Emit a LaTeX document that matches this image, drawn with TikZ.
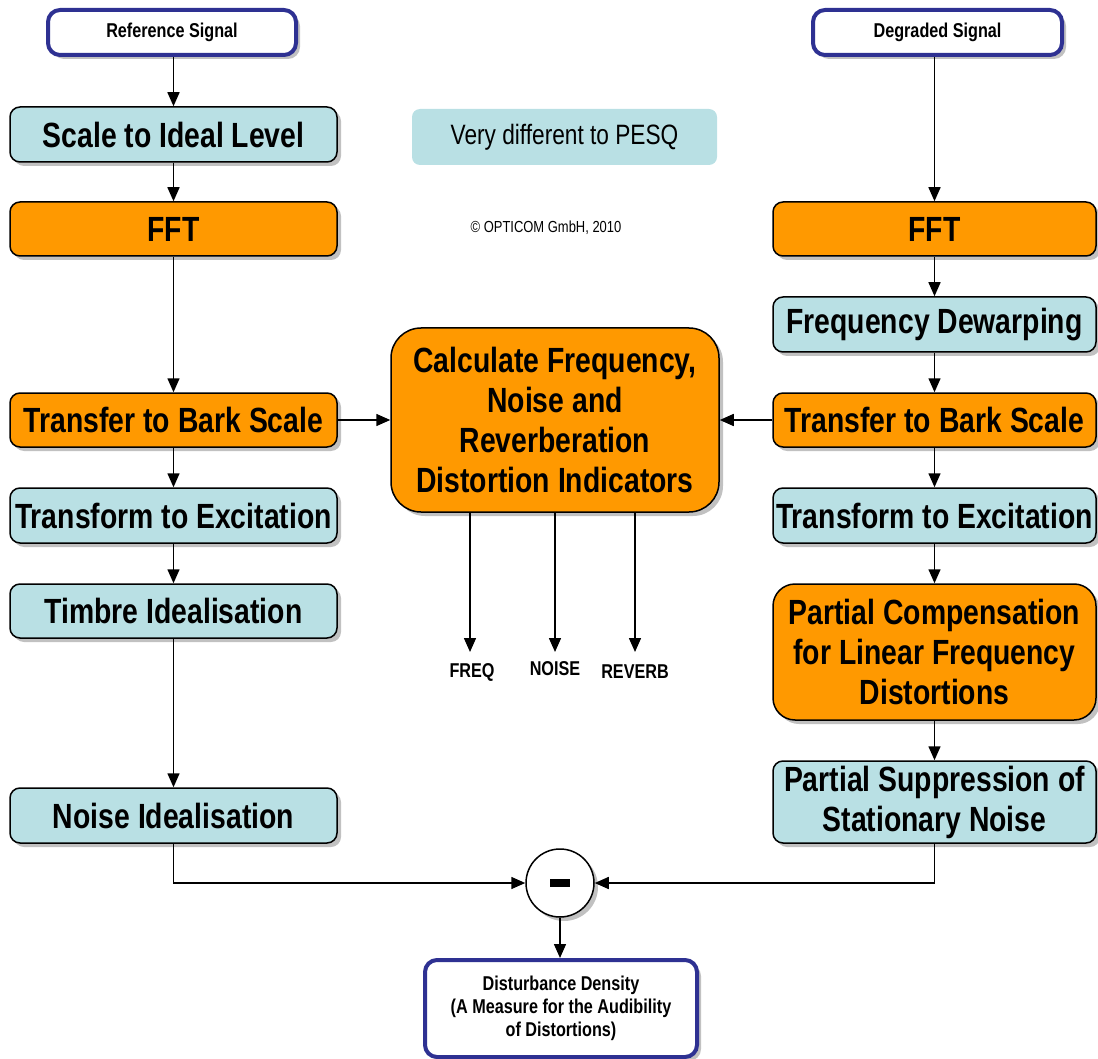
\documentclass[tikz,border=0pt]{standalone}
\usepackage{fontspec}
\setmainfont{Liberation Sans}[FakeStretch=0.81]
\usetikzlibrary{arrows.meta,shadows}
\definecolor{orng}{HTML}{FF9900}
\definecolor{lblue}{HTML}{B9E0E4}
\definecolor{navy}{HTML}{2E3192}
\begin{document}
\begin{tikzpicture}[x=1pt,y=-1pt,
  shd/.style={drop shadow={shadow xshift=4pt,shadow yshift=-4pt,opacity=0.35,fill=black!70}},
  base/.style={shd,draw=black,line width=1.5pt,rounded corners=10pt,align=center,inner sep=0pt,
    font=\fontsize{35}{40}\selectfont\bfseries},
  obox/.style={base,fill=orng},
  bbox/.style={base,fill=lblue},
  sigbox/.style={shd,draw=navy,fill=white,line width=4pt,rounded corners=12pt,align=center,inner sep=0pt,
    font=\fontsize{20}{23}\selectfont\bfseries},
  arr/.style={line width=1.5pt,-{Triangle[length=14pt,width=12pt]}},
  lbl/.style={font=\fontsize{20}{22}\selectfont\bfseries,inner sep=0pt}
]
\useasboundingbox (0,0) rectangle (1098,1059);
% left column
\node[sigbox,minimum width=248pt,minimum height=45pt] (ref) at (172,32.5) {Reference Signal};
\node[bbox,minimum width=327pt,minimum height=55pt] (scale) at (173.5,134.5) {Scale to Ideal Level};
\node[obox,minimum width=327pt,minimum height=54pt] (fftL) at (173.5,229) {FFT};
\node[obox,minimum width=327pt,minimum height=54pt] (barkL) at (173.5,420) {Transfer to Bark Scale};
\node[bbox,minimum width=327pt,minimum height=55pt] (excL) at (173.5,515.5) {Transform to Excitation};
\node[bbox,minimum width=327pt,minimum height=54pt] (timbre) at (173.5,611) {Timbre Idealisation};
\node[bbox,minimum width=327pt,minimum height=55pt] (noiseid) at (173.5,815.5) {Noise Idealisation};
% right column
\node[sigbox,minimum width=249pt,minimum height=45pt] (deg) at (937.5,32.5) {Degraded Signal};
\node[obox,minimum width=323pt,minimum height=54pt] (fftR) at (934.5,229) {FFT};
\node[bbox,minimum width=323pt,minimum height=55pt] (dewarp) at (934.5,324.5) {Frequency Dewarping};
\node[obox,minimum width=323pt,minimum height=54pt] (barkR) at (934.5,420) {Transfer to Bark Scale};
\node[bbox,minimum width=323pt,minimum height=55pt] (excR) at (934.5,515.5) {Transform to Excitation};
\node[obox,rounded corners=22pt,minimum width=323pt,minimum height=136pt] (comp) at (934.5,652) {Partial Compensation\\for Linear Frequency\\Distortions};
\node[bbox,minimum width=323pt,minimum height=82pt] (supp) at (934.5,802) {Partial Suppression of\\Stationary Noise};
% center
\node[fill=lblue,rounded corners=8pt,minimum width=305pt,minimum height=56pt,inner sep=0pt,
  font=\fontsize{28}{30}\selectfont] (pesq) at (564.5,137) {Very different to PESQ};
\node[font=\fontsize{16}{17}\selectfont,inner sep=0pt] (copy) at (546,228) {© OPTICOM GmbH, 2010};
\node[obox,rounded corners=30pt,minimum width=328pt,minimum height=184pt] (calc) at (555,420)
  {Calculate Frequency,\\Noise and\\Reverberation\\Distortion Indicators};
\coordinate (f1) at (470,652);
\coordinate (f2) at (555,652);
\coordinate (f3) at (635,652);
\node[lbl] (freq) at (472,672) {FREQ};
\node[lbl] (noise) at (555,669) {NOISE};
\node[lbl] (reverb) at (635,672) {REVERB};
\node[shd,circle,draw=black,fill=white,line width=1.5pt,minimum size=68pt,inner sep=0pt] (minus) at (560,883)
  {\rule[-3pt]{20pt}{8pt}};
\node[sigbox,minimum width=272pt,minimum height=97pt] (dist) at (561,1008.5)
  {Disturbance Density\\(A Measure for the Audibility\\of Distortions)};
% connectors
\draw[arr] (ref.south -| scale) -- (scale);
\draw[arr] (scale) -- (fftL);
\draw[arr] (fftL) -- (barkL);
\draw[arr] (barkL) -- (excL);
\draw[arr] (excL) -- (timbre);
\draw[arr] (timbre) -- (noiseid);
\draw[arr] (noiseid.south) |- (minus.west);
\draw[arr] (deg.south -| fftR) -- (fftR);
\draw[arr] (fftR) -- (dewarp);
\draw[arr] (dewarp) -- (barkR);
\draw[arr] (barkR) -- (excR);
\draw[arr] (excR) -- (comp);
\draw[arr] (comp) -- (supp);
\draw[arr] (supp.south) |- (minus.east);
\draw[arr] (minus) -- (minus.center |- dist.north);
\draw[arr] (barkL) -- (calc);
\draw[arr] (barkR) -- (calc);
\draw[arr] (calc.south -| f1) -- (f1);
\draw[arr] (calc.south -| f2) -- (f2);
\draw[arr] (calc.south -| f3) -- (f3);
\end{tikzpicture}
\end{document}
